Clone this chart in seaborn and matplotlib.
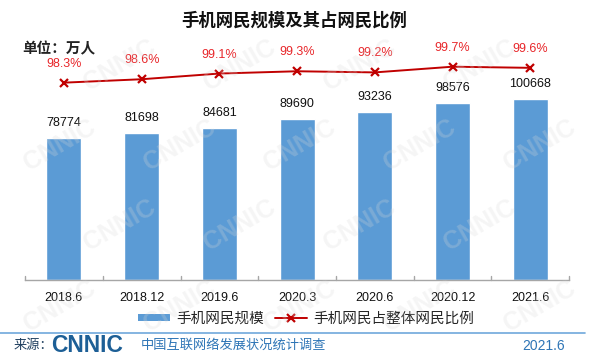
import numpy as np
import pandas as pd
import seaborn as sns
import matplotlib.pyplot as plt
from matplotlib.patches import Patch
from matplotlib.lines import Line2D

sns.set_theme(style="white")
plt.rcParams['font.family'] = ['Liberation Sans', 'Noto Sans CJK SC', 'DejaVu Sans']

periods = ['2018.6', '2018.12', '2019.6', '2020.3', '2020.6', '2020.12', '2021.6']
users = [78774, 81698, 84681, 89690, 93236, 98576, 100668]
share = [98.3, 98.6, 99.1, 99.3, 99.2, 99.7, 99.6]

bar_color = '#5b9bd5'
line_color = '#c00000'
pct_color = '#e8262a'

df = pd.DataFrame({'period': periods, 'users': users, 'share': share})

fig = plt.figure(figsize=(6, 3.64), dpi=100)
ax = fig.add_axes([0.0417, 0.2308, 0.907, 0.632])

sns.barplot(data=df, x='period', y='users', color=bar_color, width=0.45,
            saturation=1, ax=ax, zorder=2)
ax.set_ylim(0, 127920)
ax.set_xlim(-0.5, 6.5)
for i, v in enumerate(users):
    ax.annotate(str(v), (i, v), xytext=(0, 10.8), textcoords='offset points',
                ha='center', va='center', fontsize=9, color='#111111')

ax2 = ax.twinx()
sns.lineplot(x=np.arange(len(share)), y=share, ax=ax2, color=line_color,
             marker='x', markersize=6, markeredgewidth=1.6,
             markeredgecolor=line_color, linewidth=1.4)
ax2.set_ylim(80.99, 101.17)
ax2.set_xlim(-0.5, 6.5)
for i, v in enumerate(share):
    ax2.annotate(f'{v}%', (i, v), xytext=(0, 13.7), textcoords='offset points',
                 ha='center', va='center', fontsize=9, color=pct_color)

for a in (ax, ax2):
    a.set_yticks([])
    a.set_ylabel('')
    for s in ['top', 'right', 'left']:
        a.spines[s].set_visible(False)
ax2.spines['bottom'].set_visible(False)
ax.spines['bottom'].set_color('#a6a6a6')
ax.spines['bottom'].set_linewidth(1)
ax.set_xlabel('')
ax.set_xticks(range(len(periods)))
ax.set_xticklabels(periods, fontsize=9, color='#111111')
ax.tick_params(axis='x', length=0, pad=9)
# boundary ticks pointing up
for b in np.arange(-0.5, 7, 1):
    ax.plot([b, b], [0, 2200], color='#a6a6a6', lw=1, clip_on=False, zorder=3)

fig.text(0.49, 0.945, '手机网民规模及其占网民比例', ha='center', va='center',
         fontsize=12.5, fontweight='bold', color='#111111')
fig.text(0.037, 0.865, '单位：万人', ha='left', va='center', fontsize=10.5,
         fontweight='semibold', color='#222222')

handles = [Patch(facecolor=bar_color, edgecolor='none'),
           Line2D([], [], color=line_color, marker='x', markersize=6,
                  markeredgewidth=1.6, lw=1.4)]
fig.legend(handles, ['手机网民规模', '手机网民占整体网民比例'], loc='center',
           bbox_to_anchor=(0.51, 0.125), ncol=2, frameon=False, fontsize=10.5,
           handlelength=2.2, handleheight=0.35, columnspacing=0.8, handletextpad=0.4)

# footer
fig.add_artist(Line2D([0.0, 0.975], [1 - 333 / 364] * 2, color='#6fa8dc', lw=1.2))
fy = 1 - 346 / 364
fig.text(0.022, fy, '来源：', ha='left', va='center', fontsize=9.5, color='#1f3f5f')
fig.text(0.086, fy, 'CNNIC', ha='left', va='center', fontsize=16.5,
         fontweight='bold', color='#1d5f96', family=['Liberation Sans'])
fig.text(0.234, fy, '中国互联网络发展状况统计调查', ha='left', va='center',
         fontsize=9.5, color='#2e75b6')
fig.text(0.942, fy, '2021.6', ha='right', va='center', fontsize=10, color='#2e75b6')

# watermark, kept inside the canvas
for row, yy in enumerate([0.16, 0.38, 0.6, 0.82]):
    for xx in np.arange(0.1 + (row % 2) * 0.1, 0.95, 0.2):
        fig.text(xx, yy, 'CNNIC', rotation=30, fontsize=18, fontweight='bold',
                 color='#d9d9d9', alpha=0.25, ha='center', va='center', zorder=10)

fig.savefig('out.png', dpi=100)
